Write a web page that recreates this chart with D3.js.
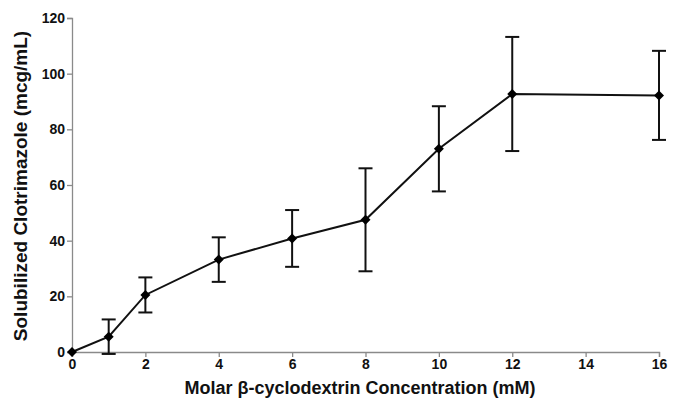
<!DOCTYPE html>
<html><head><meta charset="utf-8">
<script src="https://cdn.jsdelivr.net/npm/d3@7"></script>
<style>body{margin:0;background:#fff}svg{display:block}</style>
</head><body><svg id="c" width="673" height="398"></svg>
<script>
const xValues = [0, 1, 2, 4, 6, 8, 10, 12, 16];
const meanValues = [0, 5.5, 20.5, 33.2, 40.8, 47.5, 73, 92.7, 92.2];
const errValues = [0, 6.2, 6.3, 8, 10.2, 18.5, 15.3, 20.5, 16];
const xTicks = [0, 2, 4, 6, 8, 10, 12, 14, 16];
const yTicks = [0, 20, 40, 60, 80, 100, 120];
const xLabel = "Molar β-cyclodextrin Concentration (mM)";
const yLabel = "Solubilized Clotrimazole (mcg/mL)";

const svg = d3.select("#c");
const m = {l: 72, r: 14, t: 18, b: 46};
const W = 673, H = 398;
const x = d3.scaleLinear().domain([0, 16]).range([m.l, W - m.r]);
const y = d3.scaleLinear().domain([0, 120]).range([H - m.b, m.t]);
const font = "'Liberation Sans', Arial, sans-serif";

const gx = svg.append("g").attr("transform", `translate(0,${y(0)})`)
  .call(d3.axisBottom(x).tickValues(xTicks).tickSize(5).tickPadding(2));
const gy = svg.append("g").attr("transform", `translate(${x(0)},0)`)
  .call(d3.axisLeft(y).tickValues(yTicks).tickSize(5).tickPadding(2));
[gx, gy].forEach(g => {
  g.selectAll("path,line").attr("stroke", "#8a8a8a").attr("stroke-width", 1.3);
  g.selectAll("text").attr("fill", "#111").style("font-family", font)
   .style("font-weight", "bold").style("font-size", "14px");
});

const data = xValues.map((v, i) => ({x: v, y: meanValues[i], e: errValues[i]}));
const eb = svg.append("g").attr("stroke", "#111").attr("stroke-width", 2);
data.filter(d => d.e > 0).forEach(d => {
  eb.append("line").attr("x1", x(d.x)).attr("x2", x(d.x)).attr("y1", y(d.y - d.e)).attr("y2", y(d.y + d.e));
  [d.y - d.e, d.y + d.e].forEach(v => eb.append("line")
    .attr("x1", x(d.x) - 7).attr("x2", x(d.x) + 7).attr("y1", y(v)).attr("y2", y(v)));
});

svg.append("path").datum(data)
  .attr("d", d3.line().x(d => x(d.x)).y(d => y(d.y)))
  .attr("fill", "none").attr("stroke", "#111").attr("stroke-width", 2);

svg.append("g").selectAll("path").data(data).join("path")
  .attr("transform", d => `translate(${x(d.x)},${y(d.y)}) rotate(45)`)
  .attr("d", d3.symbol(d3.symbolSquare, 50)())
  .attr("fill", "#000");

svg.append("text").attr("x", 360).attr("y", 394)
  .attr("text-anchor", "middle").style("font-family", font).style("font-weight", "bold")
  .style("font-size", "18px").attr("fill", "#111").text(xLabel);
svg.append("text").attr("transform", `translate(27,186) rotate(-90)`)
  .attr("text-anchor", "middle").style("font-family", font).style("font-weight", "bold")
  .style("font-size", "19px").attr("fill", "#111").text(yLabel);
</script></body></html>
